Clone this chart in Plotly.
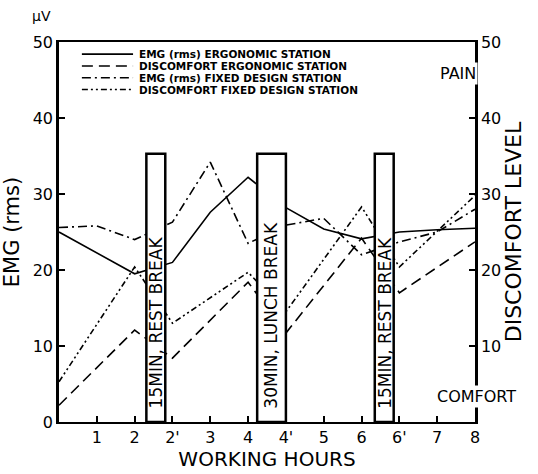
import plotly.graph_objects as go

# ---- data ----
tick_labels = ["0", "1", "2", "2'", "3", "4", "4'", "5", "6", "6'", "7", "8"]

emg_ergo_x = ["0", "2", "2'", "3", "4", "4'", "5", "6", "6'", "7", "8"]
emg_ergo_y = [25.0, 19.5, 21.0, 27.6, 32.2, 28.2, 25.4, 24.1, 25.0, 25.3, 25.5]

disc_ergo_x = ["0", "2", "2'", "4", "4'", "6", "6'", "8"]
disc_ergo_y = [2.2, 12.1, 8.4, 18.4, 11.7, 24.2, 17.0, 23.7]

emg_fixed_x = ["0", "1", "2", "2'", "3", "4", "4'", "5", "6", "6'", "7", "8"]
emg_fixed_y = [25.6, 25.8, 24.0, 26.3, 34.2, 23.5, 25.9, 26.8, 22.0, 23.7, 25.0, 28.0]

disc_fixed_x = ["0", "2", "2'", "4", "4'", "6", "6'", "8"]
disc_fixed_y = [5.3, 20.4, 13.0, 19.7, 14.5, 28.3, 20.4, 29.8]

series_names = [
    "EMG (rms) ERGONOMIC STATION",
    "DISCOMFORT ERGONOMIC STATION",
    "EMG (rms) FIXED DESIGN STATION",
    "DISCOMFORT FIXED DESIGN STATION",
]

break_labels = ["15MIN, REST BREAK", "30MIN, LUNCH BREAK", "15MIN, REST BREAK"]
break_start = [2.31, 5.24, 8.35]   # position on the hour axis
break_end = [2.81, 6.00, 8.85]
break_top = 35.3

y_ticks_left = [0, 10, 20, 30, 40, 50]
y_ticks_right = [10, 20, 30, 40, 50]

FONT = "DejaVu Sans"


def pos(labels):
    return [tick_labels.index(l) for l in labels]


dashes = ["solid", "11px,6px", "9px,4px,2px,4px", "6px,3px,2px,3px,2px,3px"]
xs = [emg_ergo_x, disc_ergo_x, emg_fixed_x, disc_fixed_x]
ys = [emg_ergo_y, disc_ergo_y, emg_fixed_y, disc_fixed_y]
axes = ["y", "y2", "y", "y2"]

fig = go.Figure()
for name, x, y, d, ax in zip(series_names, xs, ys, dashes, axes):
    fig.add_trace(go.Scatter(
        x=pos(x), y=y, name=name, mode="lines", yaxis=ax,
        line=dict(color="black", width=1.6, dash=d), showlegend=False,
    ))

shapes = []
annotations = []
for s, e, lab in zip(break_start, break_end, break_labels):
    shapes.append(dict(type="rect", xref="x", yref="y", x0=s, x1=e, y0=0, y1=break_top,
                       fillcolor="white", line=dict(color="black", width=2.5), layer="above"))
    annotations.append(dict(x=(s + e) / 2, y=1.5, xref="x", yref="y", text=lab,
                            textangle=-90, showarrow=False, xanchor="center", yanchor="bottom",
                            font=dict(family=FONT, size=17, color="black")))

# legend drawn as a key inside the plot
leg_y = [0.968, 0.937, 0.906, 0.875]
for name, d, ly in zip(series_names, dashes, leg_y):
    shapes.append(dict(type="line", xref="paper", yref="paper", x0=0.055, x1=0.178, y0=ly, y1=ly,
                       line=dict(color="black", width=1.6, dash=d), layer="above"))
    annotations.append(dict(x=0.187, y=ly, xref="paper", yref="paper", text=name, showarrow=False,
                            xanchor="left", yanchor="middle",
                            font=dict(family=FONT, size=10.5, color="black", weight="bold")))

annotations += [
    dict(x=-0.043, y=1.068, xref="paper", yref="paper", text="μV", showarrow=False,
         xanchor="center", yanchor="middle",
         font=dict(family=FONT, size=14, color="black")),
    dict(x=0.96, y=0.918, xref="paper", yref="paper", text="PAIN", showarrow=False,
         xanchor="center", yanchor="middle", bgcolor="white",
         font=dict(family=FONT, size=16, color="black")),
    dict(x=1.003, y=0.068, xref="paper", yref="paper", text="COMFORT", showarrow=False,
         xanchor="center", yanchor="middle", bgcolor="white",
         font=dict(family=FONT, size=16, color="black")),
]

tick_font = dict(family=FONT, size=16, color="black")

fig.update_layout(
    width=538, height=474,
    margin=dict(l=59, r=63, t=42, b=52),
    paper_bgcolor="white", plot_bgcolor="white",
    showlegend=False,
    shapes=shapes, annotations=annotations,
    xaxis=dict(
        range=[0, 11], tickvals=list(range(1, len(tick_labels))), ticktext=tick_labels[1:],
        ticks="inside", ticklen=6, tickwidth=1.5, tickcolor="black",
        showline=True, linewidth=2, linecolor="black", mirror=True,
        showgrid=False, zeroline=False, tickfont=tick_font,
        title=dict(text="WORKING HOURS", font=dict(family=FONT, size=20, color="black"), standoff=6),
        automargin=False,
    ),
    yaxis=dict(
        range=[0, 50], tickvals=y_ticks_left, ticks="inside", ticklen=6, tickwidth=1.5,
        tickcolor="black", showline=True, linewidth=2.5, linecolor="black",
        showgrid=False, zeroline=False, tickfont=tick_font,
        title=dict(text="EMG (rms)", font=dict(family=FONT, size=21, color="black"), standoff=9),
        automargin=False,
    ),
    yaxis2=dict(
        range=[0, 50], overlaying="y", side="right", tickvals=y_ticks_right,
        ticks="inside", ticklen=6, tickwidth=1.5, tickcolor="black",
        showline=True, linewidth=2.5, linecolor="black",
        showgrid=False, zeroline=False, tickfont=tick_font,
        title=dict(text="DISCOMFORT LEVEL", font=dict(family=FONT, size=22, color="black"), standoff=4),
        automargin=False,
    ),
)

fig.write_html("out.html", config={"displayModeBar": False},
               post_script="document.body.style.margin='0px';document.body.style.padding='0px';")
